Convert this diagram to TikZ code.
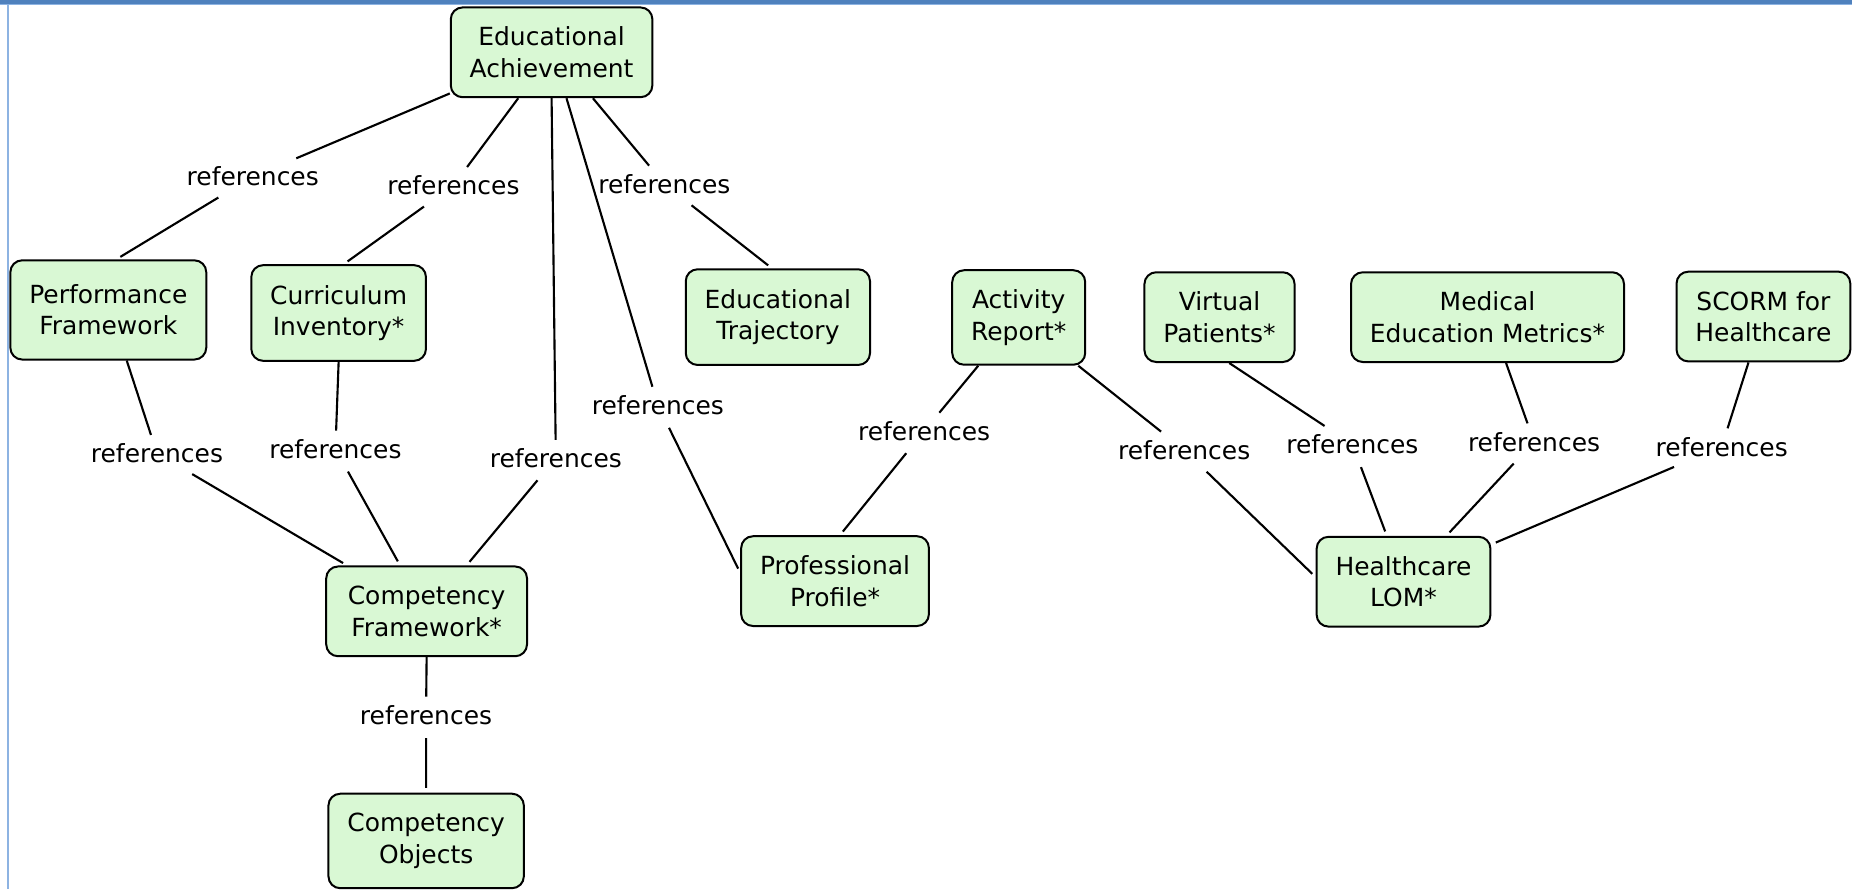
\documentclass[tikz,border=0pt]{standalone}
\usepackage{fontspec}
\setmainfont{DejaVu Sans}
\usetikzlibrary{positioning}

\definecolor{conceptfill}{RGB}{217,248,212}
\definecolor{framebar}{RGB}{79,129,189}
\definecolor{frameline}{RGB}{141,179,226}

\begin{document}
\begin{tikzpicture}[x=0.5bp,y=-0.5bp,font=\fontsize{10.6}{13.4}\selectfont,
  concept/.style={draw,rounded corners=5bp,fill=conceptfill,line width=0.85pt,
    align=center,inner xsep=8bp,minimum height=38bp},
  linking/.style={inner sep=3.5bp},
  link/.style={line width=0.9pt,shorten <=2bp,shorten >=2bp}]
\useasboundingbox (0,0) rectangle (1568,753);
\fill[framebar] (0,0) rectangle (1568,3.6);
\fill[frameline] (0,3.6) rectangle (1568,4.4);
\draw[frameline,line width=0.7bp] (6.5,4.4) -- (6.5,753);

% define the concepts
  \node[concept] (ea) at (467,44.3) {Educational\\Achievement};
  \node[concept,minimum height=42bp] (pf) at (91.7,262.4) {Performance\\Framework};
  \node[concept,minimum height=40.5bp] (ci) at (286.7,265) {Curriculum\\Inventory*};
  \node[concept,minimum height=40.5bp] (et) at (658.6,268.5) {Educational\\Trajectory};
  \node[concept,minimum height=40bp] (ar) at (862.5,268.8) {Activity\\Report*};
  \node[concept] (vp) at (1032.5,268.5) {Virtual\\Patients*};
  \node[concept] (mem) at (1259.4,268.5) {Medical\\Education Metrics*};
  \node[concept] (sc) at (1493,268) {SCORM for\\Healthcare};
  \node[concept,minimum width=85bp] (cf) at (361.2,517.6) {Competency\\Framework*};
  \node[concept] (pp) at (707,492) {Professional\\Profile*};
  \node[concept] (hl) at (1188.3,492.5) {Healthcare\\LOM*};
  \node[concept,minimum height=40bp] (co) at (360.8,712) {Competency\\Objects};

% define the linking phrases
  \node[linking] (r1) at (214,149.6) {references};
  \node[linking] (r2) at (383.9,157) {references};
  \node[linking] (r3) at (562.5,155.8) {references};
  \node[linking] (r4) at (557,343) {references};
  \node[linking] (r5) at (470.6,388) {references};
  \node[linking] (r6) at (132.9,383.8) {references};
  \node[linking] (r7) at (284,380.2) {references};
  \node[linking] (r8) at (360.7,605.4) {references};
  \node[linking] (r9) at (782.4,365) {references};
  \node[linking] (r10) at (1002.6,381) {references};
  \node[linking] (r11) at (1145,376.2) {references};
  \node[linking] (r12) at (1298.8,374) {references};
  \node[linking] (r13) at (1457.7,378.2) {references};

% define the links
  \draw[link] (ea.202) -- (r1) -- (pf.81);
  \draw[link] (ea.234) -- (r2) -- (ci.84);
  \draw[link] (ea.312) -- (r3) -- (et.97);
  \draw[link] (ea.288) -- (r4) -- (pp.175);
  \draw[link] (ea.south) -- (r5) -- (cf.49);
  \draw[link] (pf.290) -- (r6) -- (cf.150);
  \draw[link] (ci.south) -- (r7) -- (cf.120);
  \draw[link] (cf.south) -- (r8) -- (co.north);
  \draw[link] (ar.230) -- (r9) -- (pp.84);
  \draw[link] (ar.321) -- (r10) -- (hl.177);
  \draw[link] (vp.282) -- (r11) -- (hl.110);
  \draw[link] (mem.292) -- (r12) -- (hl.47);
  \draw[link] (sc.252) -- (r13) -- (hl.23);
\end{tikzpicture}
\end{document}
